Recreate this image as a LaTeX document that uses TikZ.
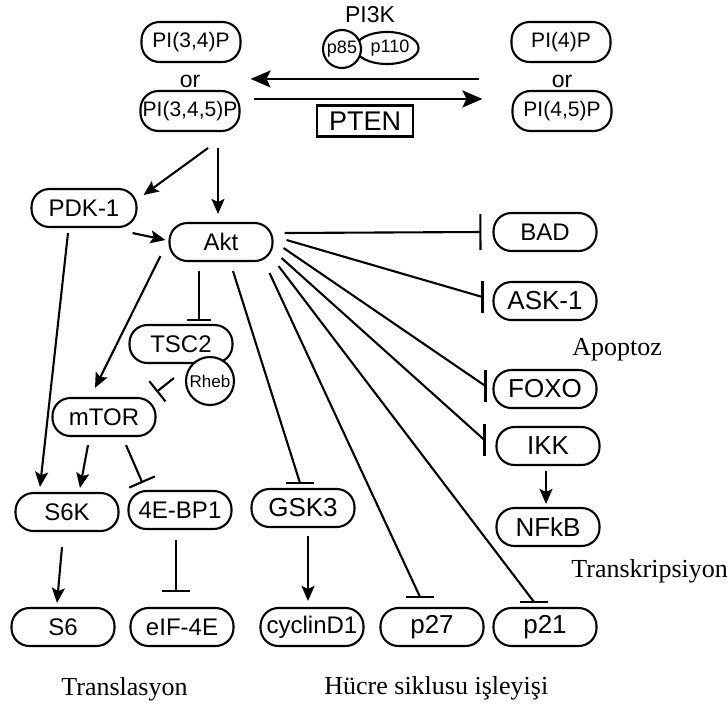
\documentclass[tikz,border=0pt]{standalone}
\usepackage{fontspec}
\setmainfont{Liberation Serif}
\setsansfont{Liberation Sans}
\usetikzlibrary{arrows.meta, shapes.geometric}
\newcommand{\protfont}{\sffamily\fontsize{24}{28}\selectfont}
\newcommand{\bigprotfont}{\sffamily\fontsize{26}{30}\selectfont}
\newcommand{\pifont}{\sffamily\fontsize{21}{24}\selectfont}
\newcommand{\labfont}{\rmfamily\fontsize{26}{30}\selectfont}

\begin{document}
\begin{tikzpicture}[x=1pt,y=-1pt,line width=2.1pt,
  act/.style={-{Stealth[length=15pt,width=13pt,inset=3pt]}},
  bigact/.style={-{Stealth[length=20pt,width=17pt,inset=4pt]}},
  inh/.style={-{Bar[width=28pt]}},
  prot/.style={draw,fill=white,rounded corners=18pt,minimum width=103pt,minimum height=38pt,inner sep=0pt,font=\protfont},
  pibox/.style={prot,minimum width=99pt,minimum height=40pt,font=\pifont},
  lab/.style={anchor=base west,font=\labfont}]
\useasboundingbox (0,0) rectangle (728,707);

% lipids and PI3K / PTEN
\node[pibox] (pi34) at (191,42) {PI(3,4)P};
\node[font=\sffamily\fontsize{23}{26}\selectfont] (or1) at (190,81) {or};
\node[pibox] (pi345) at (190,111) {PI(3,4,5)P};
\node[pibox] (pi4) at (561,42) {PI(4)P};
\node[font=\sffamily\fontsize{23}{26}\selectfont] (or2) at (562,81) {or};
\node[pibox] (pi45) at (562,111) {PI(4,5)P};
\node[font=\sffamily\fontsize{23}{26}\selectfont] (pi3k) at (370,15) {PI3K};
\node[draw,ellipse,fill=white,minimum width=58pt,minimum height=32pt,inner sep=0pt,
      font=\sffamily\fontsize{18}{20}\selectfont] (p110) at (387,48) {\hspace{6pt}p110};
\node[draw,circle,fill=white,minimum size=38pt,inner sep=0pt,
      font=\sffamily\fontsize{18}{20}\selectfont] (p85) at (342,49) {p85};
\node[draw,line width=2.8pt,minimum width=96pt,minimum height=31pt,inner sep=0pt,
      font=\sffamily\fontsize{27}{30}\selectfont] (pten) at (365,121) {PTEN};

% signalling nodes
\node[prot,minimum width=105pt] (pdk) at (84,208) {PDK-1};
\node[prot] (akt) at (221,242) {Akt};
\node[prot] (tsc2) at (181,344) {TSC2};
\node[draw,circle,fill=white,minimum size=48pt,inner sep=0pt,
      font=\sffamily\fontsize{17}{19}\selectfont] (rheb) at (210,381) {Rheb};
\node[prot] (mtor) at (104,417) {mTOR};
\node[prot] (s6k) at (67,512) {S6K};
\node[prot] (bp1) at (180,510) {4E-BP1};
\node[prot,font=\bigprotfont] (gsk3) at (303,508) {GSK3};
\node[prot] (s6) at (63,627) {S6};
\node[prot] (eif) at (182,627) {eIF-4E};
\node[prot] (cyc) at (312,627) {cyclinD1};
\node[prot,font=\bigprotfont] (p27) at (432,627) {p27};
\node[prot,font=\bigprotfont] (p21) at (545,627) {p21};
\node[prot] (bad) at (545,232) {BAD};
\node[prot,font=\bigprotfont] (ask1) at (545,301) {ASK-1};
\node[prot,font=\bigprotfont] (foxo) at (545,389) {FOXO};
\node[prot,font=\bigprotfont] (ikk) at (548,446) {IKK};
\node[prot,font=\bigprotfont] (nfkb) at (548,527) {NFkB};

\node[lab] (apop) at (568,355) {Apoptoz};
\node[lab] (trk) at (567,577) {Transkripsiyon};
\node[lab] (trl) at (57,695) {Translasyon};
\node[lab] (hcr) at (320,694) {Hücre siklusu işleyişi};

% bar ends that stay level with their box
\coordinate (gskbar) at ([xshift=-3pt,yshift=5pt]gsk3.north);
\coordinate (p27bar) at ([xshift=-12pt,yshift=10pt]p27.north);
\coordinate (p21bar) at ([xshift=-11pt,yshift=5pt]p21.north);
\coordinate (askbar) at ([xshift=-10pt,yshift=4pt]ask1.west);
\coordinate (foxobar) at ([xshift=-7pt,yshift=3pt]foxo.west);
\coordinate (ikkbar) at ([xshift=-11pt,yshift=6pt]ikk.west);

\draw[bigact] ([xshift=-32pt,yshift=11pt]pi45.north west) -- ([xshift=10pt,yshift=11pt]pi345.north east);
\draw[bigact] ([xshift=13pt,yshift=-9pt]pi345.north east) -- ([xshift=-29pt,yshift=-9pt]pi45.north west);
\draw[act] ([xshift=18pt,yshift=-16pt]pi345.south) -- ([xshift=6pt,yshift=13pt]pdk.east);
\draw[act] ([xshift=28pt,yshift=-16pt]pi345.south) -- ([xshift=-3pt,yshift=8pt]akt.north);
\draw[act] ([xshift=-5pt,yshift=-5pt]pdk.south east) -- ([xshift=-3pt,yshift=2pt]akt.west);
\draw[act] ([xshift=-16pt,yshift=-5pt]pdk.south) -- ([xshift=-27pt,yshift=5pt]s6k.north);
\draw[act] ([xshift=-8pt,yshift=6pt]akt.south west) -- ([xshift=-9pt,yshift=9pt]mtor.north);
\draw[inh,-{Bar[width=24pt]}] ([xshift=-22pt,yshift=-9pt]akt.south) -- ([xshift=18pt,yshift=3pt]tsc2.north);
\draw[inh,-{Bar[width=26pt]}] ([xshift=-11pt,yshift=3pt]rheb.west) -- ([yshift=5pt]mtor.north east);
\draw[act] ([xshift=-16pt,yshift=-8pt]mtor.south) -- ([xshift=13pt,yshift=4pt]s6k.north);
\draw[inh] ([xshift=22pt,yshift=-8pt]mtor.south) -- ([xshift=15pt,yshift=7pt]bp1.north west);
\draw[act] ([xshift=-5pt,yshift=-15pt]s6k.south) -- ([xshift=-6pt,yshift=4pt]s6.north);
\draw[inh] ([xshift=-4pt,yshift=-10pt]bp1.south) -- ([xshift=-6pt,yshift=15pt]eif.north);
\draw[act] ([xshift=5pt,yshift=-8pt]gsk3.south) -- ([xshift=-4pt,yshift=6pt]cyc.north);
\draw[act] ([xshift=-2pt,yshift=-5pt]ikk.south) -- ([xshift=-2pt,yshift=3pt]nfkb.north);

% Akt fan
\draw[inh,-{Bar[width=36pt]}] ([xshift=11pt,yshift=9pt]akt.east) -- ([xshift=-11pt]bad.west);
\draw ([xshift=13pt,yshift=2pt]akt.east) -- (askbar);
\draw ([xshift=10pt,yshift=-6pt]akt.east) -- (foxobar);
\draw ([xshift=8pt,yshift=-16pt]akt.east) -- (ikkbar);
\draw ([xshift=12pt,yshift=-9pt]akt.south) -- (gskbar);
\draw ([xshift=-4pt,yshift=-11pt]akt.south east) -- (p27bar);
\draw ([xshift=5pt,yshift=-4pt]akt.south east) -- (p21bar);
\foreach \c in {gskbar,p27bar,p21bar}
  \draw ([xshift=-14pt]\c) -- ([xshift=14pt]\c);
\foreach \c in {askbar,foxobar,ikkbar}
  \draw ([yshift=-16pt]\c) -- ([yshift=16pt]\c);
\end{tikzpicture}
\end{document}
